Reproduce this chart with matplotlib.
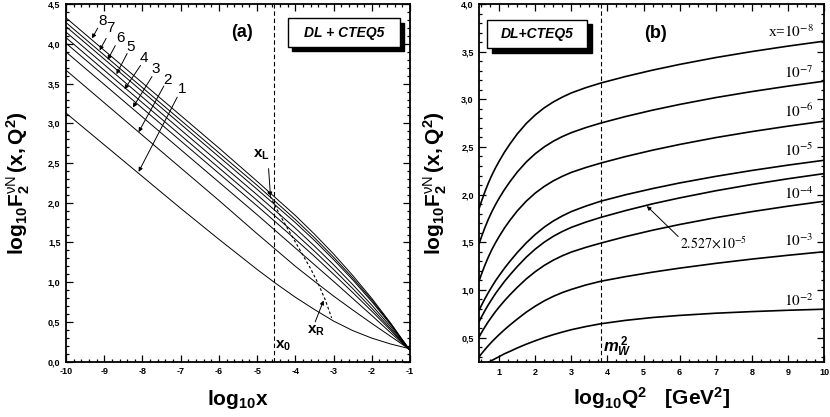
import matplotlib
matplotlib.use("Agg")
import matplotlib.pyplot as plt
from matplotlib.patches import Rectangle
from matplotlib.ticker import MultipleLocator, FuncFormatter

plt.rcParams['font.family'] = ['Liberation Sans', 'DejaVu Sans']
plt.rcParams['mathtext.fontset'] = 'custom'
plt.rcParams['mathtext.rm'] = 'Liberation Sans:bold'
plt.rcParams['mathtext.it'] = 'Liberation Sans:italic:bold'
plt.rcParams['mathtext.bf'] = 'Liberation Sans:bold'
plt.rcParams['mathtext.sf'] = 'Liberation Sans'

# ---- panel (a): log10 F2 vs log10 x, one line per Q^2
log_x = [-10, -9, -8, -7, -6, -5, -4.5, -4, -3.5, -3, -2.5, -2, -1.5, -1]
curves_a = [
    [4.33, 3.92, 3.51, 3.10, 2.69, 2.27, 2.055, 1.84, 1.605, 1.355, 1.085, 0.795, 0.48, 0.14],
    [4.27, 3.86, 3.45, 3.04, 2.63, 2.22, 2.005, 1.79, 1.56, 1.315, 1.055, 0.775, 0.47, 0.14],
    [4.22, 3.81, 3.40, 2.99, 2.58, 2.17, 1.96, 1.75, 1.525, 1.285, 1.03, 0.755, 0.46, 0.14],
    [4.15, 3.74, 3.33, 2.92, 2.51, 2.10, 1.89, 1.68, 1.455, 1.22, 0.97, 0.71, 0.435, 0.14],
    [4.08, 3.67, 3.26, 2.85, 2.44, 2.03, 1.82, 1.61, 1.39, 1.16, 0.92, 0.67, 0.41, 0.14],
    [4.01, 3.60, 3.19, 2.78, 2.37, 1.96, 1.75, 1.54, 1.325, 1.10, 0.87, 0.635, 0.39, 0.14],
    [3.90, 3.49, 3.08, 2.67, 2.26, 1.85, 1.64, 1.43, 1.22, 1.01, 0.795, 0.58, 0.36, 0.14],
    [3.67, 3.26, 2.85, 2.44, 2.03, 1.61, 1.405, 1.20, 1.01, 0.825, 0.65, 0.48, 0.315, 0.15],
    [3.13, 2.73, 2.33, 1.93, 1.54, 1.16, 0.98, 0.81, 0.655, 0.51, 0.39, 0.295, 0.22, 0.16],
]
x0 = -4.57
# dashed x_L -> x_R line
xlr_x = [-4.72, -4.55, -4.35, -4.10, -3.85, -3.60, -3.40, -3.22, -3.05]
xlr_y = [2.14, 1.98, 1.80, 1.59, 1.38, 1.17, 0.98, 0.78, 0.55]
curve_labels = ['8', '7', '6', '5', '4', '3', '2', '1']

# ---- panel (b): log10 F2 vs log10 Q2 for fixed x
log_q2 = [0.45, 0.5, 0.6, 0.7, 0.8, 0.9, 1.0, 1.15, 1.3, 1.5, 1.75, 2.0, 2.25, 2.5, 2.75,
          3.0, 3.4, 3.81, 4.5, 5.25, 6.0, 7.0, 8.0, 9.0, 10.0]
f_1e8 = [1.860, 1.919, 2.025, 2.121, 2.206, 2.282, 2.351, 2.447, 2.532, 2.636, 2.746, 2.836, 2.911,
         2.972, 3.023, 3.067, 3.122, 3.170, 3.239, 3.306, 3.366, 3.438, 3.501, 3.558, 3.610]
f_1e7 = [1.490, 1.547, 1.649, 1.741, 1.823, 1.896, 1.963, 2.054, 2.136, 2.236, 2.342, 2.429, 2.501,
         2.560, 2.609, 2.650, 2.703, 2.750, 2.819, 2.886, 2.946, 3.018, 3.081, 3.138, 3.190]
f_1e6 = [1.100, 1.155, 1.255, 1.345, 1.425, 1.496, 1.561, 1.651, 1.731, 1.828, 1.931, 2.016, 2.086,
         2.144, 2.192, 2.233, 2.284, 2.330, 2.399, 2.466, 2.526, 2.598, 2.661, 2.718, 2.770]
f_1e5 = [0.790, 0.831, 0.904, 0.972, 1.035, 1.096, 1.150, 1.229, 1.301, 1.391, 1.493, 1.582, 1.659,
         1.723, 1.776, 1.822, 1.879, 1.930, 1.998, 2.063, 2.122, 2.191, 2.253, 2.309, 2.360]
f_2527e5 = [0.670, 0.709, 0.779, 0.844, 0.904, 0.962, 1.014, 1.090, 1.158, 1.244, 1.343, 1.428, 1.501,
            1.562, 1.613, 1.656, 1.711, 1.760, 1.832, 1.903, 1.965, 2.040, 2.106, 2.166, 2.220]
f_1e4 = [0.510, 0.545, 0.608, 0.667, 0.721, 0.773, 0.820, 0.887, 0.949, 1.026, 1.115, 1.191, 1.257,
         1.312, 1.358, 1.397, 1.446, 1.490, 1.559, 1.626, 1.686, 1.758, 1.821, 1.878, 1.930]
f_1e3 = [0.300, 0.325, 0.371, 0.415, 0.456, 0.494, 0.531, 0.583, 0.632, 0.693, 0.766, 0.829, 0.885,
         0.932, 0.972, 1.005, 1.051, 1.090, 1.139, 1.186, 1.228, 1.278, 1.323, 1.363, 1.400]
f_1e2 = [0.180, 0.190, 0.215, 0.240, 0.260, 0.280, 0.300, 0.330, 0.355, 0.390, 0.430, 0.466, 0.500,
         0.530, 0.557, 0.582, 0.615, 0.644, 0.680, 0.710, 0.732, 0.755, 0.772, 0.786, 0.797]
curves_b = [f_1e8, f_1e7, f_1e6, f_1e5, f_2527e5, f_1e4, f_1e3, f_1e2]
mw2 = 3.81
labels_b = [r'x=$10^{-8}$', r'$10^{-7}$', r'$10^{-6}$', r'$10^{-5}$', r'$10^{-4}$', r'$10^{-3}$', r'$10^{-2}$']
labels_b_y = [3.65, 3.22, 2.82, 2.40, 1.95, 1.46, 0.83]

ylab = r'$\mathrm{log}_{10}\mathrm{F}_{2}^{\mathsf{\nu N}}\mathrm{\,(x,Q^{2})}$'

fig = plt.figure(figsize=(8.3, 4.17), dpi=100)
ax1 = fig.add_axes([0.0795, 0.133, 0.4145, 0.8567])
ax2 = fig.add_axes([0.5775, 0.1312, 0.4153, 0.8592])

comma = FuncFormatter(lambda v, p: ('%.1f' % v).replace('.', ','))
intf = FuncFormatter(lambda v, p: '%d' % round(v))

for ax in (ax1, ax2):
    for s in ax.spines.values():
        s.set_linewidth(1.3)
    ax.tick_params(which='both', direction='in', top=True, right=True, width=0.9)
    ax.tick_params(which='major', length=5, labelsize=6.5, pad=4)
    ax.tick_params(which='minor', length=2.5)
    for t in ax.get_xticklabels() + ax.get_yticklabels():
        t.set_fontweight('bold')
    ax.yaxis.set_major_formatter(comma)
    ax.xaxis.set_major_formatter(intf)
    ax.yaxis.set_major_locator(MultipleLocator(0.5))
    ax.yaxis.set_minor_locator(MultipleLocator(0.1))
    ax.xaxis.set_major_locator(MultipleLocator(1))

# ---------------- (a)
for ys in curves_a:
    ax1.plot(log_x, ys, color='k', lw=0.7)
ax1.axvline(x0, color='k', lw=0.8, ls=(0, (4, 2.5)))
ax1.plot(xlr_x, xlr_y, color='k', lw=0.8, ls=(0, (2.5, 2)))
ax1.set_xlim(-10, -1)
ax1.set_ylim(0, 4.5)
ax1.xaxis.set_minor_locator(MultipleLocator(0.2))

arr = dict(arrowstyle='-|>', color='k', lw=0.7, mutation_scale=6, shrinkA=0, shrinkB=0)
lab_pos = [(-9.03, 4.29), (-8.84, 4.20), (-8.58, 4.08), (-8.30, 3.96),
           (-7.95, 3.82), (-7.66, 3.68), (-7.34, 3.55), (-6.96, 3.43)]
tails = [(-9.17, 4.20), (-8.95, 4.07), (-8.71, 3.98), (-8.40, 3.88),
         (-8.05, 3.73), (-7.75, 3.59), (-7.44, 3.47), (-7.09, 3.33)]
tips = [(-9.32, 4.07), (-9.12, 3.92), (-8.91, 3.80), (-8.68, 3.62),
        (-8.47, 3.43), (-8.25, 3.20), (-8.10, 2.89), (-8.10, 2.39)]
for lab, p, t0, t1 in zip(curve_labels, lab_pos, tails, tips):
    ax1.text(p[0], p[1], lab, fontsize=11, ha='center', va='center')
    ax1.annotate('', xy=t1, xytext=t0, arrowprops=arr)

ax1.text(-5.40, 4.15, '(a)', fontsize=13, fontweight='bold', ha='center', va='center')
ax1.text(-4.90, 2.60, r'$\mathrm{x}_{\mathrm{L}}$', fontsize=11, ha='center', va='center')
ax1.annotate('', xy=(-4.65, 2.08), xytext=(-4.70, 2.43), arrowprops=arr)
ax1.text(-3.45, 0.39, r'$\mathrm{x}_{\mathrm{R}}$', fontsize=11, ha='center', va='center')
ax1.annotate('', xy=(-3.26, 0.77), xytext=(-3.48, 0.50), arrowprops=arr)
ax1.text(-4.31, 0.20, r'$\mathrm{x}_{0}$', fontsize=11, ha='center', va='center')

def shadow_box(ax, x, y, w, h, dx, dy, txt):
    ax.add_patch(Rectangle((x + dx, y - dy), w, h, transform=ax.transAxes,
                           facecolor='k', edgecolor='k', zorder=5))
    ax.add_patch(Rectangle((x, y), w, h, transform=ax.transAxes,
                           facecolor='white', edgecolor='k', lw=1.0, zorder=6))
    ax.text(x + w / 2, y + h / 2, txt, transform=ax.transAxes, fontsize=10,
            fontweight='bold', fontstyle='italic', ha='center', va='center', zorder=7)

shadow_box(ax1, 0.6465, 0.881, 0.325, 0.0796, 0.011, 0.012, 'DL + CTEQ5')

ax1.set_xlabel(r'$\mathrm{log}_{10}\mathrm{x}$', fontsize=15)
ax1.set_ylabel(ylab, fontsize=15)
ax1.xaxis.set_label_coords(0.5, -0.075)
ax1.yaxis.set_label_coords(-0.10, 0.5)

# ---------------- (b)
for ys in curves_b:
    ax2.plot(log_q2, ys, color='k', lw=1.2)
ax2.axvline(mw2, color='k', lw=0.8, ls=(0, (4, 2.5)))
ax2.set_xlim(0.45, 10)
ax2.set_ylim(0.24, 4.0)
ax2.xaxis.set_minor_locator(MultipleLocator(0.25))

for lab, yv in zip(labels_b, labels_b_y):
    ax2.text(9.72, yv, lab, fontsize=11, ha='right', va='baseline',
             family='Liberation Serif', math_fontfamily='stix')
ax2.text(6.0, 1.43, r'$2.527{\times}10^{-5}$', fontsize=10, ha='left', va='baseline',
         math_fontfamily='stix')
ax2.annotate('', xy=(5.09, 1.88), xytext=(5.96, 1.56), arrowprops=arr)
ax2.text(5.32, 3.69, '(b)', fontsize=13, fontweight='bold', ha='center', va='center')
ax2.text(4.26, 0.40, r'$m_{W}^{\,2}$', fontsize=12, ha='center', va='center')

shadow_box(ax2, 0.0215, 0.876, 0.29, 0.079, 0.014, 0.012, 'DL+CTEQ5')

ax2.set_xlabel(r'$\mathrm{log}_{10}\mathrm{Q}^{2}\quad\mathrm{[GeV}^{2}\mathrm{]}$', fontsize=15)
ax2.set_ylabel(ylab, fontsize=15)
ax2.xaxis.set_label_coords(0.5, -0.065)
ax2.yaxis.set_label_coords(-0.088, 0.5)

fig.savefig('out.png', dpi=100)
